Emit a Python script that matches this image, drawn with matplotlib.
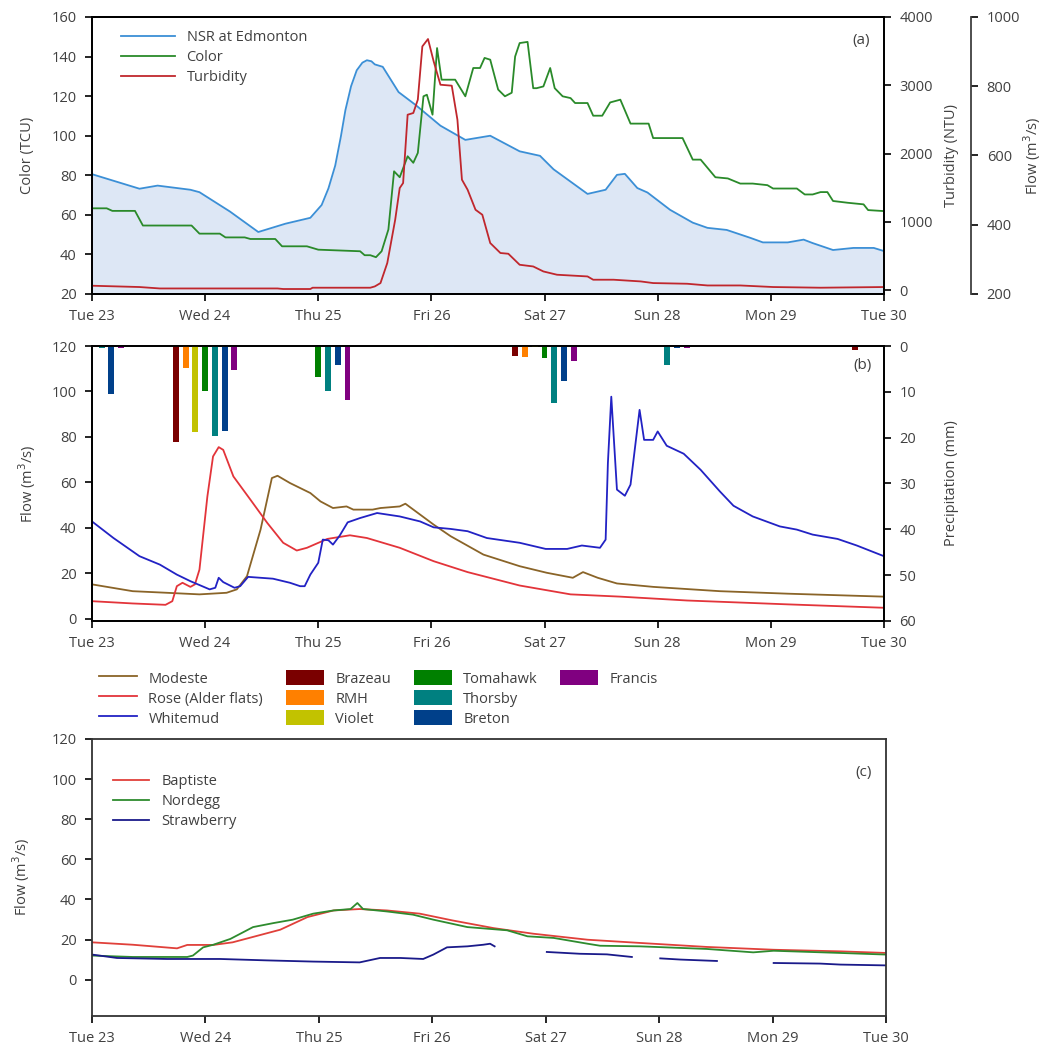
import numpy as np
import matplotlib.pyplot as plt
from matplotlib.patches import Patch
from matplotlib.lines import Line2D

plt.rcParams['font.family'] = ['Open Sans', 'DejaVu Sans']
plt.rcParams['font.size'] = 10.5

day_labels = ['Tue 23', 'Wed 24', 'Thu 25', 'Fri 26', 'Sat 27', 'Sun 28', 'Mon 29', 'Tue 30']

# ---- panel (a): NSR flow, color, turbidity
nsr_t = [0.0, 0.42, 0.58, 0.87, 0.95, 1.22, 1.47, 1.71, 1.93, 2.03, 2.09, 2.15, 2.20, 2.24, 2.29,
         2.34, 2.39, 2.43, 2.47, 2.50, 2.57, 2.71, 2.86, 3.08, 3.30, 3.52, 3.78, 3.96, 4.08, 4.38,
         4.54, 4.64, 4.71, 4.82, 4.91, 5.11, 5.31, 5.44, 5.61, 5.82, 5.93, 6.15, 6.29, 6.37, 6.55,
         6.73, 6.91, 7.0]
nsr_q = [546, 504, 513, 501, 494, 438, 379, 403, 420, 457, 505, 571, 655, 731, 800,
         846, 868, 875, 872, 863, 856, 783, 746, 686, 645, 657, 612, 599, 560, 489,
         501, 544, 547, 506, 493, 443, 406, 391, 385, 362, 349, 349, 357, 347, 327,
         333, 333, 324]

color_t = [0.0, 0.13, 0.18, 0.38, 0.45, 0.88, 0.95, 1.13, 1.18, 1.35, 1.40, 1.62, 1.68, 1.90, 2.00,
           2.37, 2.41, 2.46, 2.51, 2.56, 2.62, 2.67, 2.72, 2.79, 2.84, 2.88, 2.93, 2.96, 3.01, 3.05,
           3.09, 3.21, 3.30, 3.37, 3.43, 3.47, 3.52, 3.59, 3.65, 3.71, 3.74, 3.78, 3.85, 3.90, 3.93,
           3.99, 4.05, 4.09, 4.16, 4.23, 4.27, 4.38, 4.43, 4.51, 4.58, 4.67, 4.76, 4.92, 4.96, 5.22,
           5.31, 5.38, 5.51, 5.62, 5.73, 5.84, 5.97, 6.02, 6.23, 6.30, 6.37, 6.44, 6.50, 6.55, 6.68,
           6.82, 6.86, 7.0]
color_v = [63.3, 63.3, 62, 62, 54.6, 54.6, 50.5, 50.5, 48.6, 48.6, 47.8, 47.8, 44.1, 44.1, 42.4,
           41.6, 39.6, 39.6, 38.6, 41.6, 52.6, 82, 79, 89.6, 86.3, 91.3, 119.9, 120.7, 110.6, 144.3,
           128.3, 128.3, 119.9, 134.2, 134.2, 139.3, 138.4, 123.3, 119.9, 121.7, 140, 146.8, 147.4, 124, 124,
           124.9, 134.2, 124, 119.9, 119, 116.5, 116.5, 110.1, 110.1, 116.8, 118.2, 106.1, 106.1, 98.8, 98.8,
           87.9, 87.9, 79, 78.4, 75.8, 75.8, 75, 73.3, 73.3, 70.3, 70.3, 71.5, 71.5, 67, 66.1,
           65.3, 62.4, 61.9]

turb_t = [0.0, 0.42, 0.60, 1.64, 1.69, 1.93, 1.95, 2.46, 2.50, 2.55, 2.61, 2.68, 2.72, 2.75, 2.79,
          2.84, 2.88, 2.92, 2.97, 3.02, 3.08, 3.18, 3.23, 3.27, 3.32, 3.39, 3.45, 3.52, 3.61, 3.68,
          3.78, 3.90, 3.99, 4.11, 4.38, 4.43, 4.61, 4.85, 4.96, 5.26, 5.44, 5.73, 6.02, 6.44, 7.0]
turb_v = [66, 47, 26, 26, 18, 18, 37, 37, 56, 105, 398, 1032, 1496, 1569, 2569,
          2594, 2789, 3569, 3677, 3350, 3008, 2994, 2496, 1618, 1471, 1178, 1105, 691, 545, 534,
          373, 348, 275, 227, 202, 154, 154, 129, 105, 95, 70, 70, 47, 37, 47]

# ---- panel (b): tributary flows and precipitation
whitemud_t = [0.0, 0.19, 0.42, 0.60, 0.75, 0.87, 1.04, 1.09, 1.12, 1.16, 1.26, 1.31, 1.38, 1.49, 1.60,
              1.75, 1.84, 1.88, 1.93, 2.00, 2.04, 2.09, 2.13, 2.19, 2.26, 2.37, 2.52, 2.72, 2.90, 3.02,
              3.17, 3.32, 3.49, 3.78, 4.01, 4.20, 4.33, 4.49, 4.54, 4.56, 4.59, 4.64, 4.71, 4.76, 4.84,
              4.88, 4.96, 5.00, 5.08, 5.23, 5.38, 5.55, 5.67, 5.84, 6.08, 6.23, 6.37, 6.59, 6.76, 7.0]
whitemud_q = [42.8, 35.5, 27.5, 23.8, 19.4, 16.5, 12.9, 13.6, 18, 16.1, 13.6, 14.3, 18.4, 18, 17.6,
              15.8, 14.3, 14.3, 19.4, 24.6, 34.8, 34.5, 32.6, 36.6, 42.4, 44.3, 46.5, 45, 42.8, 40.2,
              39.5, 38.5, 35.5, 33.4, 30.7, 30.7, 32.2, 31.2, 34.8, 68.5, 97.7, 56.8, 54.1, 59, 91.9,
              78.7, 78.7, 82.4, 76.1, 72.6, 65.5, 56, 49.7, 45, 40.6, 39.2, 37, 35.1, 32.2, 27.5]

modeste_t = [0.0, 0.36, 0.66, 0.95, 1.19, 1.28, 1.37, 1.49, 1.59, 1.64, 1.75, 1.93, 2.02, 2.13, 2.25,
             2.31, 2.48, 2.55, 2.72, 2.77, 3.02, 3.17, 3.46, 3.78, 4.02, 4.25, 4.34, 4.47, 4.64, 4.96,
             5.55, 6.15, 7.0]
modeste_q = [15.1, 12.1, 11.4, 10.7, 11.4, 12.9, 18.7, 39.2, 61.9, 62.9, 59.7, 55.3, 51.6, 48.7, 49.4,
             48, 48, 48.7, 49.4, 50.6, 41.4, 36.3, 28.2, 23.1, 20.2, 18, 20.5, 18, 15.5, 14,
             12.1, 11, 9.7]

rose_t = [0.0, 0.36, 0.65, 0.71, 0.75, 0.80, 0.87, 0.91, 0.95, 1.02, 1.07, 1.12, 1.16, 1.25, 1.40,
          1.55, 1.69, 1.81, 1.90, 2.08, 2.28, 2.43, 2.72, 3.02, 3.32, 3.78, 4.23, 4.67, 5.26, 6.15, 7.0]
rose_q = [7.7, 6.7, 6.1, 7.7, 14.3, 15.8, 14, 15.1, 21.6, 53.8, 71.4, 75.5, 74.3, 62.6, 52.4,
          42.1, 33.4, 30, 31.2, 35.1, 36.7, 35.5, 31.2, 25.3, 20.5, 14.6, 10.7, 9.7, 8, 6.3, 4.8]

# daily precipitation (mm) per station, one value per day tick
stations = ['Brazeau', 'RMH', 'Violet', 'Tomahawk', 'Thorsby', 'Breton', 'Francis']
station_colors = ['#7a0000', '#ff8000', '#c2c200', '#008000', '#008080', '#00408a', '#800080']
precip_brazeau = [0, 21.0, 0, 0, 2.2, 0, 0, 0.9]
precip_rmh = [0, 4.8, 0, 0, 2.3, 0, 0, 0]
precip_violet = [0, 18.8, 0, 0, 0.3, 0, 0, 0]
precip_tomahawk = [0, 9.9, 6.8, 0.3, 2.7, 0, 0, 0]
precip_thorsby = [0.5, 19.7, 9.9, 0, 12.4, 4.2, 0, 0]
precip_breton = [10.4, 18.5, 4.1, 0.3, 7.7, 0.5, 0, 0]
precip_francis = [0.5, 5.2, 11.7, 0, 3.2, 0.4, 0, 0]

# ---- panel (c): mountain headwater flows
baptiste_t = [0.0, 0.36, 0.75, 0.84, 1.07, 1.24, 1.42, 1.66, 1.90, 2.13, 2.36, 2.60, 2.89, 3.18, 3.54,
              3.89, 4.37, 4.83, 5.42, 6.01, 6.60, 7.0]
baptiste_q = [18.6, 17.4, 15.6, 17.3, 17.3, 18.6, 21.3, 24.9, 31.2, 34.5, 35.2, 34.5, 32.9, 29.5, 25.7,
              22.9, 19.9, 18.3, 16.3, 14.9, 14.1, 13.3]

nordegg_t = [0.0, 0.36, 0.84, 0.89, 0.98, 1.07, 1.22, 1.42, 1.60, 1.77, 1.95, 2.13, 2.28, 2.34, 2.39,
             2.60, 2.83, 3.01, 3.31, 3.66, 3.84, 4.07, 4.37, 4.48, 4.83, 5.42, 5.83, 6.01, 6.60, 7.0]
nordegg_q = [12, 11.3, 11.3, 12, 16.1, 17.4, 20.3, 26.2, 28.2, 29.9, 32.9, 34.5, 35.2, 38.2, 35.2,
             34, 32.4, 29.9, 26.2, 24.6, 21.6, 20.8, 17.9, 16.9, 16.6, 15.3, 13.6, 14.4, 13.3, 12.5]

strawberry_t = [0.0, 0.22, 0.66, 1.13, 1.54, 1.95, 2.36, 2.54, 2.72, 2.92, 3.01, 3.13, 3.31, 3.45, 3.51,
                3.55, 3.56, 4.01, 4.30, 4.54, 4.76, 4.77, 5.01, 5.19, 5.51, 5.52, 6.01, 6.42, 6.60, 7.0]
strawberry_q = [12.5, 10.8, 10.3, 10.3, 9.6, 9, 8.6, 10.8, 10.8, 10.3, 12.5, 16.1, 16.6, 17.4, 17.9,
                16.6, np.nan, 13.8, 12.9, 12.6, 11.3, np.nan, 10.6, 10, 9.3, np.nan, 8.3, 8, 7.5, 7.1]

tick_color = '#404040'
lw = 1.3
fig = plt.figure(figsize=(10.44, 10.53), dpi=100)


def style_days(ax):
    ax.set_xlim(0, 7)
    ax.set_xticks(range(8))
    ax.set_xticklabels(day_labels)
    ax.tick_params(direction='out', length=5, width=1.2, colors='black',
                   labelcolor=tick_color, labelsize=10.5, pad=6)
    for s in ax.spines.values():
        s.set_linewidth(1.3)


# (a)
ax_q = fig.add_axes([0.0881, 0.7208, 0.7586, 0.2631])
ax_a = ax_q.twinx()
ax_t = ax_q.twinx()
ax_q.yaxis.tick_right()
ax_q.yaxis.set_label_position('right')
ax_q.spines['right'].set_position(('outward', 63))
ax_q.spines['left'].set_visible(False)
ax_a.yaxis.tick_left()
ax_a.yaxis.set_label_position('left')
ax_q.set_zorder(0)
ax_a.set_zorder(1)
ax_t.set_zorder(2)
ax_a.patch.set_visible(False)
ax_t.patch.set_visible(False)

ax_q.fill_between(nsr_t, 200, nsr_q, color='#dde7f5', lw=0)
l_nsr, = ax_q.plot(nsr_t, nsr_q, color='#3b8fd6', lw=lw)
ax_q.set_ylim(200, 1000)
ax_q.set_yticks([200, 400, 600, 800, 1000])
ax_q.set_ylabel('Flow (m$^3$/s)', color=tick_color, fontsize=10.5, labelpad=1)

l_col, = ax_a.plot(color_t, color_v, color='#2a8a2a', lw=lw)
ax_a.set_ylim(20, 160)
ax_a.set_yticks(range(20, 161, 20))
ax_a.set_ylabel('Color (TCU)', color=tick_color, fontsize=10.5, labelpad=12)

l_tur, = ax_t.plot(turb_t, turb_v, color='#c0272d', lw=lw)
ax_t.set_ylim(-55, 4000)
ax_t.set_yticks(range(0, 4001, 1000))
ax_t.set_ylabel('Turbidity (NTU)', color=tick_color, fontsize=10.5, labelpad=8)

for ax in (ax_q, ax_a, ax_t):
    style_days(ax)
ax_q.spines['right'].set_color('#404040')
ax_a.legend([l_nsr, l_col, l_tur], ['NSR at Edmonton', 'Color', 'Turbidity'], loc='upper left',
            bbox_to_anchor=(0.02, 1.0), frameon=False, handlelength=3.7, labelspacing=0.35,
            fontsize=10.5, labelcolor=tick_color)
ax_a.text(0.982, 0.915, '(a)', transform=ax_a.transAxes, ha='right', va='center',
          color=tick_color, fontsize=11)

# (b)
ax_b = fig.add_axes([0.0881, 0.4103, 0.7586, 0.2611])
ax_p = ax_b.twinx()
l_mod, = ax_b.plot(modeste_t, modeste_q, color='#8a6428', lw=lw)
l_ros, = ax_b.plot(rose_t, rose_q, color='#e3343a', lw=lw)
l_whi, = ax_b.plot(whitemud_t, whitemud_q, color='#2222c4', lw=lw)
ax_b.set_ylim(-1, 120)
ax_b.set_yticks(range(0, 121, 20))
ax_b.set_ylabel('Flow (m$^3$/s)', color=tick_color, fontsize=10.5, labelpad=10)

precip = [precip_brazeau, precip_rmh, precip_violet, precip_tomahawk,
          precip_thorsby, precip_breton, precip_francis]
offsets = np.arange(-3, 4) * 0.086
days = np.arange(8)
for i, vals in enumerate(precip):
    ax_p.bar(days + offsets[i], vals, width=0.052, color=station_colors[i], align='center')
ax_p.set_ylim(60, 0)
ax_p.set_yticks(range(0, 61, 10))
ax_p.set_ylabel('Precipitation (mm)', color=tick_color, fontsize=10.5, labelpad=20)
for ax in (ax_b, ax_p):
    style_days(ax)
ax_p.text(0.985, 0.93, '(b)', transform=ax_p.transAxes, ha='right', va='center',
          color=tick_color, fontsize=11)

blank = Line2D([], [], color='none')
handles = [l_mod, l_ros, l_whi] + \
          [Patch(facecolor=c) for c in station_colors[:6]] + [Patch(facecolor=station_colors[6]), blank, blank]
labels = ['Modeste', 'Rose (Alder flats)', 'Whitemud'] + stations[:6] + ['Francis', '', '']
fig.legend(handles, labels, loc='upper left', bbox_to_anchor=(0.082, 0.376), ncol=4,
           frameon=False, handlelength=2.6, handleheight=1.2, labelspacing=0.25,
           columnspacing=1.55, fontsize=10.5, labelcolor=tick_color)

# (c)
ax_c = fig.add_axes([0.0881, 0.0354, 0.7605, 0.2628])
l_bap, = ax_c.plot(baptiste_t, baptiste_q, color='#e0403a', lw=lw)
l_nor, = ax_c.plot(nordegg_t, nordegg_q, color='#2e8b2e', lw=lw)
l_str, = ax_c.plot(strawberry_t, strawberry_q, color='#1a1a8a', lw=lw)
ax_c.set_ylim(-18, 120)
ax_c.set_yticks(range(0, 121, 20))
ax_c.set_ylabel('Flow (m$^3$/s)', color=tick_color, fontsize=10.5, labelpad=14)
style_days(ax_c)
for s in ax_c.spines.values():
    s.set_color('#333333')
ax_c.legend([l_bap, l_nor, l_str], ['Baptiste', 'Nordegg', 'Strawberry'], loc='upper left',
            bbox_to_anchor=(0.01, 0.92), frameon=False, handlelength=2.5, labelspacing=0.35,
            fontsize=10.5, labelcolor=tick_color)
ax_c.text(0.982, 0.88, '(c)', transform=ax_c.transAxes, ha='right', va='center',
          color=tick_color, fontsize=11)

fig.savefig('out.png', dpi=100)
